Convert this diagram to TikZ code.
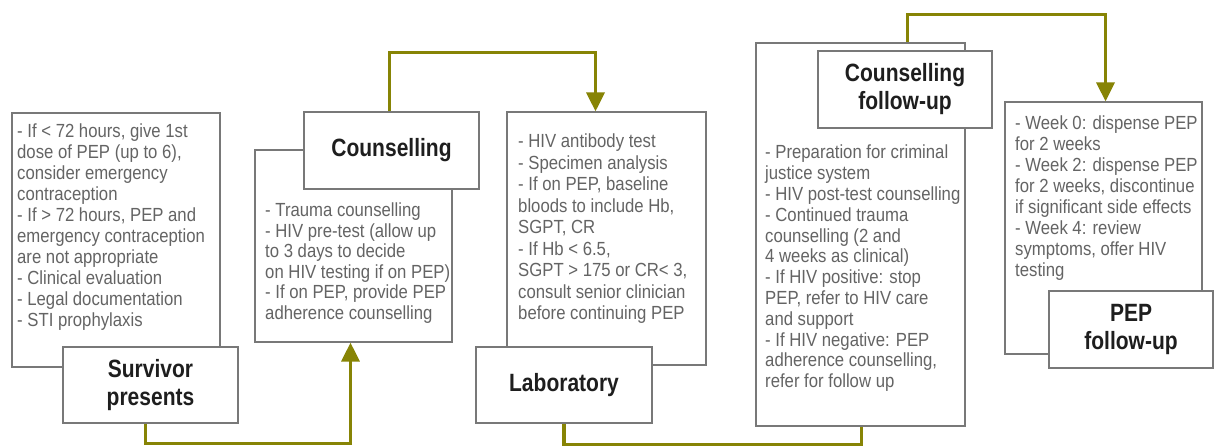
\documentclass[tikz,border=0pt]{standalone}
\usepackage{fontspec}
\setmainfont{Liberation Sans}
\newfontfamily\bodyfont[FakeStretch=0.88]{Liberation Sans}
\newfontfamily\headfont[FakeStretch=0.84]{Liberation Sans}
\usetikzlibrary{arrows.meta}
\definecolor{olivec}{RGB}{135,132,5}
\definecolor{boxgray}{RGB}{120,120,120}
\definecolor{txtgray}{RGB}{100,100,100}
\definecolor{headc}{RGB}{30,30,30}
\begin{document}
\begin{tikzpicture}[x=1pt,y=-1pt,
 bodybox/.style={draw=boxgray,line width=1.2pt,fill=white,inner sep=0pt},
 headbox/.style={draw=boxgray,line width=1.2pt,fill=white,inner sep=0pt,align=center,font=\headfont\bfseries\fontsize{25}{28}\selectfont,text=headc},
 bodytext/.style={anchor=north west,inner sep=0pt,align=left,text=txtgray,font=\bodyfont\fontsize{19}{21}\selectfont},
 conn/.style={draw=olivec,line width=3.4pt},
 arr/.style={conn,-{Triangle[width=18pt,length=19pt]}}]
\useasboundingbox (0,0) rectangle (1214,445);
\fill[white] (0,0) rectangle (1214,445);
% body boxes
\node[bodybox,minimum width=208,minimum height=254] (survb) at (116,240) {};
\node[bodybox,minimum width=197,minimum height=192] (cbody) at (353.5,246) {};
\node[bodybox,minimum width=199,minimum height=253] (lbody) at (606.5,238.5) {};
\node[bodybox,minimum width=209,minimum height=383] (fbody) at (860.5,234.5) {};
\node[bodybox,minimum width=197,minimum height=252] (pbody) at (1103.5,228) {};
% body texts
\node[bodytext] (survtx) at (17,124) {- If < 72 hours, give 1st\\ dose of PEP (up to 6),\\ consider emergency\\ contraception\\ - If > 72 hours, PEP and\\ emergency contraception\\ are not appropriate\\ - Clinical evaluation\\ - Legal documentation\\ - STI prophylaxis};
\node[bodytext,font=\bodyfont\fontsize{19}{20.5}\selectfont] (ctx) at (265,203) {- Trauma counselling\\ - HIV pre-test (allow up\\ to 3 days to decide\\ on HIV testing if on PEP)\\ - If on PEP, provide PEP\\ adherence counselling};
\node[bodytext,font=\bodyfont\fontsize{19}{21.5}\selectfont] (ltx) at (518,134) {- HIV antibody test\\ - Specimen analysis\\ - If on PEP, baseline\\ bloods to include Hb,\\ SGPT, CR\\ - If Hb < 6.5,\\ SGPT > 175 or CR< 3,\\ consult senior clinician\\ before continuing PEP};
\node[bodytext,font=\bodyfont\fontsize{19}{20.8}\selectfont] (ftx) at (765,145) {- Preparation for criminal\\ justice system\\ - HIV post-test counselling\\ - Continued trauma\\ counselling (2 and\\ 4 weeks as clinical)\\ - If HIV positive: stop\\ PEP, refer to HIV care\\ and support\\ - If HIV negative: PEP\\ adherence counselling,\\ refer for follow up};
\node[bodytext] (ptx) at (1015,116) {- Week 0: dispense PEP\\ for 2 weeks\\ - Week 2: dispense PEP\\ for 2 weeks, discontinue\\ if significant side effects\\ - Week 4: review\\ symptoms, offer HIV\\ testing};
% title boxes
\node[headbox,minimum width=175,minimum height=76] (survt) at (150.5,385) {Survivor\\presents};
\node[headbox,minimum width=175,minimum height=77] (ct) at (391.5,150.5) {Counselling};
\node[headbox,minimum width=176,minimum height=76] (lt) at (564,385) {Laboratory};
\node[headbox,minimum width=174,minimum height=77] (ft) at (905,89.5) {Counselling\\follow-up};
\node[headbox,minimum width=164,minimum height=77] (pt) at (1131,329.5) {PEP\\follow-up};
% connectors
\draw[arr] ([xshift=-5]survt.south) -- ++(0,20) -| ([xshift=-3]cbody.south);
\draw[arr] ([xshift=-2]ct.north) -- ++(0,-59) -| ([xshift=-11]lbody.north);
\draw[conn] (lt.south) -- ++(0,21) -| ([xshift=1]fbody.south);
\draw[arr] ([xshift=47]fbody.north) -- ++(0,-28) -| ([xshift=2]pbody.north);
\end{tikzpicture}
\end{document}
